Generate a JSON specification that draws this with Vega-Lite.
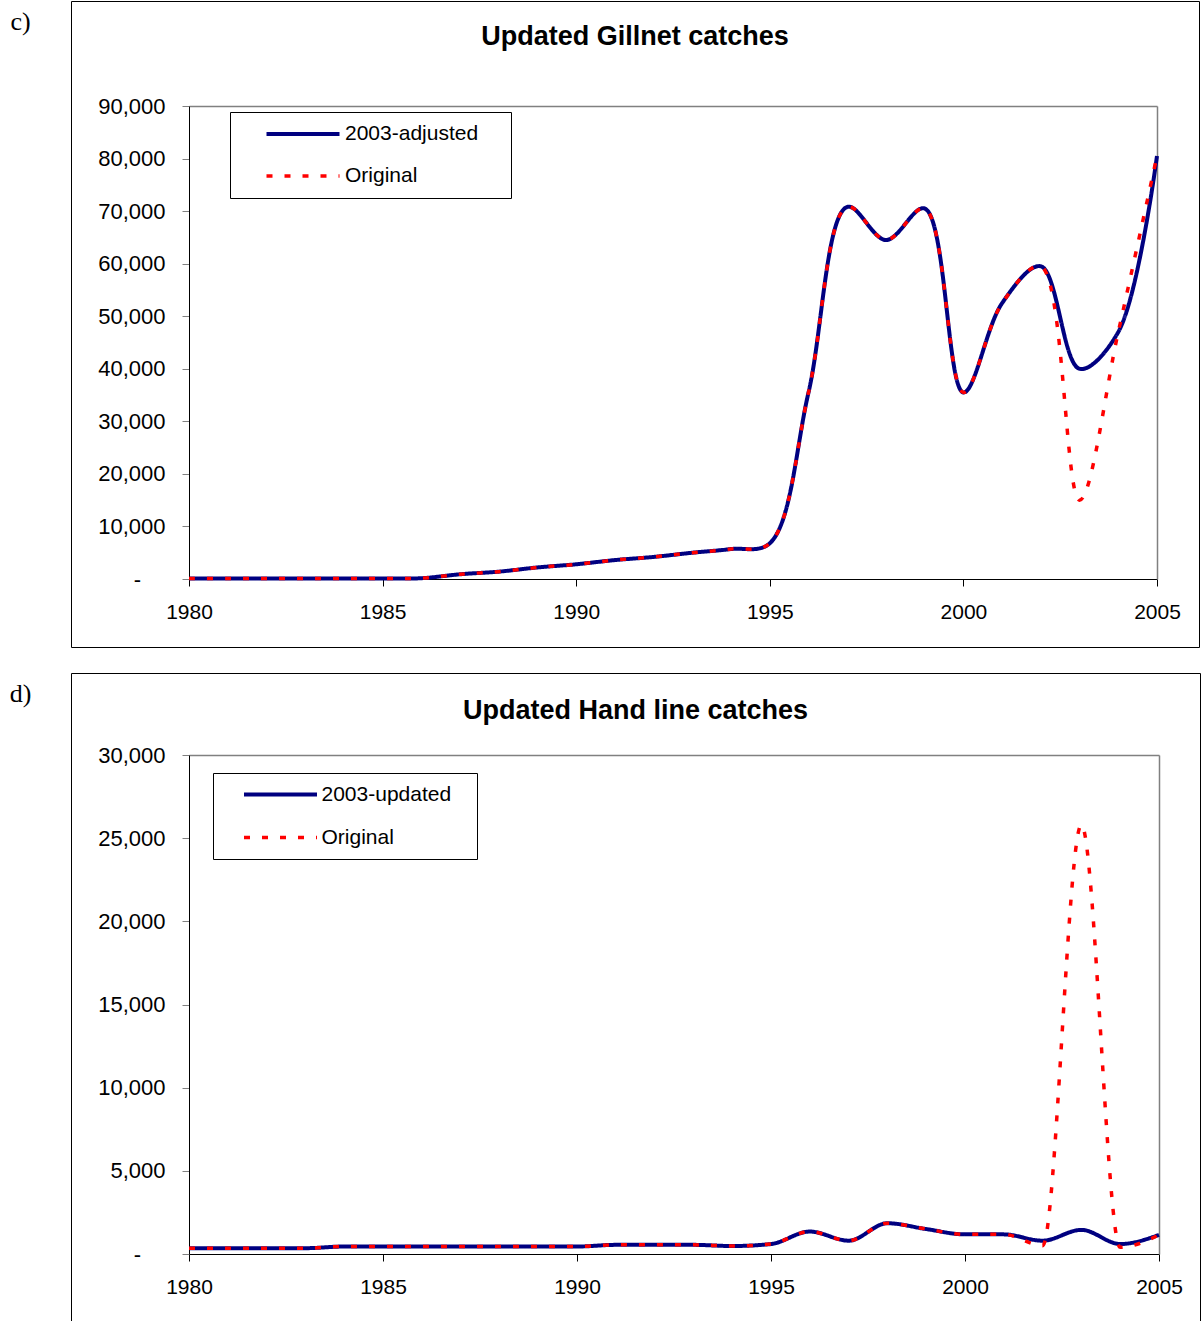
{
  "$schema": "https://vega.github.io/schema/vega-lite/v6.json",
  "autosize": {"type": "pad"},
  "padding": {"left": 8, "top": 0, "right": 0, "bottom": 0},
  "config": {"view": {"stroke": "black", "strokeWidth": 1}, "font": "Liberation Sans"},
  "spacing": 24,
  "datasets": {
    "gillnet": [
      {"year": 1980, "series": "2003-adjusted", "catch": 100}, {"year": 1981, "series": "2003-adjusted", "catch": 100},
      {"year": 1982, "series": "2003-adjusted", "catch": 100}, {"year": 1983, "series": "2003-adjusted", "catch": 100},
      {"year": 1984, "series": "2003-adjusted", "catch": 100}, {"year": 1985, "series": "2003-adjusted", "catch": 100},
      {"year": 1986, "series": "2003-adjusted", "catch": 150}, {"year": 1987, "series": "2003-adjusted", "catch": 900},
      {"year": 1988, "series": "2003-adjusted", "catch": 1400}, {"year": 1989, "series": "2003-adjusted", "catch": 2200},
      {"year": 1990, "series": "2003-adjusted", "catch": 2800}, {"year": 1991, "series": "2003-adjusted", "catch": 3600},
      {"year": 1992, "series": "2003-adjusted", "catch": 4200}, {"year": 1993, "series": "2003-adjusted", "catch": 5000},
      {"year": 1994, "series": "2003-adjusted", "catch": 5700}, {"year": 1995, "series": "2003-adjusted", "catch": 6800},
      {"year": 1996, "series": "2003-adjusted", "catch": 35500}, {"year": 1997, "series": "2003-adjusted", "catch": 70800},
      {"year": 1998, "series": "2003-adjusted", "catch": 64500}, {"year": 1999, "series": "2003-adjusted", "catch": 70500},
      {"year": 2000, "series": "2003-adjusted", "catch": 35500}, {"year": 2001, "series": "2003-adjusted", "catch": 52500},
      {"year": 2002, "series": "2003-adjusted", "catch": 59500}, {"year": 2003, "series": "2003-adjusted", "catch": 40000},
      {"year": 2004, "series": "2003-adjusted", "catch": 47000}, {"year": 2005, "series": "2003-adjusted", "catch": 80500},
      {"year": 1980, "series": "Original", "catch": 100}, {"year": 1981, "series": "Original", "catch": 100},
      {"year": 1982, "series": "Original", "catch": 100}, {"year": 1983, "series": "Original", "catch": 100},
      {"year": 1984, "series": "Original", "catch": 100}, {"year": 1985, "series": "Original", "catch": 100},
      {"year": 1986, "series": "Original", "catch": 150}, {"year": 1987, "series": "Original", "catch": 900},
      {"year": 1988, "series": "Original", "catch": 1400}, {"year": 1989, "series": "Original", "catch": 2200},
      {"year": 1990, "series": "Original", "catch": 2800}, {"year": 1991, "series": "Original", "catch": 3600},
      {"year": 1992, "series": "Original", "catch": 4200}, {"year": 1993, "series": "Original", "catch": 5000},
      {"year": 1994, "series": "Original", "catch": 5700}, {"year": 1995, "series": "Original", "catch": 6800},
      {"year": 1996, "series": "Original", "catch": 35500}, {"year": 1997, "series": "Original", "catch": 70800},
      {"year": 1998, "series": "Original", "catch": 64500}, {"year": 1999, "series": "Original", "catch": 70500},
      {"year": 2000, "series": "Original", "catch": 35500}, {"year": 2001, "series": "Original", "catch": 52500},
      {"year": 2002, "series": "Original", "catch": 59500}, {"year": 2003, "series": "Original", "catch": 15000},
      {"year": 2004, "series": "Original", "catch": 47000}, {"year": 2005, "series": "Original", "catch": 80500}
    ],
    "handline": [
      {"year": 1980, "series": "2003-updated", "catch": 350}, {"year": 1981, "series": "2003-updated", "catch": 350},
      {"year": 1982, "series": "2003-updated", "catch": 350}, {"year": 1983, "series": "2003-updated", "catch": 350},
      {"year": 1984, "series": "2003-updated", "catch": 450}, {"year": 1985, "series": "2003-updated", "catch": 450},
      {"year": 1986, "series": "2003-updated", "catch": 450}, {"year": 1987, "series": "2003-updated", "catch": 450},
      {"year": 1988, "series": "2003-updated", "catch": 450}, {"year": 1989, "series": "2003-updated", "catch": 450},
      {"year": 1990, "series": "2003-updated", "catch": 450}, {"year": 1991, "series": "2003-updated", "catch": 550},
      {"year": 1992, "series": "2003-updated", "catch": 550}, {"year": 1993, "series": "2003-updated", "catch": 550},
      {"year": 1994, "series": "2003-updated", "catch": 480}, {"year": 1995, "series": "2003-updated", "catch": 600},
      {"year": 1996, "series": "2003-updated", "catch": 1350}, {"year": 1997, "series": "2003-updated", "catch": 800},
      {"year": 1998, "series": "2003-updated", "catch": 1850}, {"year": 1999, "series": "2003-updated", "catch": 1500},
      {"year": 2000, "series": "2003-updated", "catch": 1180}, {"year": 2001, "series": "2003-updated", "catch": 1180},
      {"year": 2002, "series": "2003-updated", "catch": 800}, {"year": 2003, "series": "2003-updated", "catch": 1450},
      {"year": 2004, "series": "2003-updated", "catch": 600}, {"year": 2005, "series": "2003-updated", "catch": 1150},
      {"year": 1980, "series": "Original", "catch": 350}, {"year": 1981, "series": "Original", "catch": 350},
      {"year": 1982, "series": "Original", "catch": 350}, {"year": 1983, "series": "Original", "catch": 350},
      {"year": 1984, "series": "Original", "catch": 450}, {"year": 1985, "series": "Original", "catch": 450},
      {"year": 1986, "series": "Original", "catch": 450}, {"year": 1987, "series": "Original", "catch": 450},
      {"year": 1988, "series": "Original", "catch": 450}, {"year": 1989, "series": "Original", "catch": 450},
      {"year": 1990, "series": "Original", "catch": 450}, {"year": 1991, "series": "Original", "catch": 550},
      {"year": 1992, "series": "Original", "catch": 550}, {"year": 1993, "series": "Original", "catch": 550},
      {"year": 1994, "series": "Original", "catch": 480}, {"year": 1995, "series": "Original", "catch": 600},
      {"year": 1996, "series": "Original", "catch": 1350}, {"year": 1997, "series": "Original", "catch": 800},
      {"year": 1998, "series": "Original", "catch": 1850}, {"year": 1999, "series": "Original", "catch": 1500},
      {"year": 2000, "series": "Original", "catch": 1180}, {"year": 2001, "series": "Original", "catch": 1180},
      {"year": 2002, "series": "Original", "catch": 500}, {"year": 2003, "series": "Original", "catch": 25800},
      {"year": 2004, "series": "Original", "catch": 400}, {"year": 2005, "series": "Original", "catch": 1150}
    ]
  },
  "vconcat": [
    {
      "width": 1128,
      "height": 646,
      "data": {"name": "gillnet"},
      "title": {"text": "Updated Gillnet catches", "anchor": "middle", "frame": "group", "offset": -71, "baseline": "alphabetic", "fontSize": 27, "fontWeight": "bold", "font": "Liberation Sans", "color": "black"},
      "layer": [
        {
          "transform": [{"filter": "datum.series === '2003-adjusted'"}],
          "mark": {"type": "line", "interpolate": "catmull-rom", "strokeWidth": 4},
          "encoding": {
            "x": {"field": "year", "type": "quantitative",
              "scale": {"domain": [1980, 2005], "range": [118, 1086], "nice": false, "zero": false},
              "axis": {"orient": "bottom", "offset": -68, "values": [1980, 1985, 1990, 1995, 2000, 2005], "format": "d", "title": null, "grid": false, "domainColor": "black", "tickColor": "black", "tickSize": 7, "labelFontSize": 21, "labelFont": "Liberation Sans", "labelColor": "black", "labelPadding": 15, "labelFlush": false, "labelOverlap": false}},
            "y": {"field": "catch", "type": "quantitative",
              "scale": {"domain": [0, 90000], "range": [578, 105], "nice": false},
              "axis": {"orient": "left", "offset": -118, "values": [0, 10000, 20000, 30000, 40000, 50000, 60000, 70000, 80000, 90000], "labelExpr": "datum.value === 0 ? '-\u2007\u2007\u200b' : format(datum.value, ',')", "title": "c)", "titleAngle": 0, "titleX": -169, "titleY": 20, "titleAlign": "center", "titleBaseline": "middle", "titleFont": "Liberation Serif", "titleFontSize": 26, "titleFontWeight": "normal", "titleColor": "black", "grid": false, "domainColor": "black", "tickColor": "#808080", "tickSize": 7, "labelFontSize": 22, "labelFont": "Liberation Sans", "labelColor": "black", "labelPadding": 17, "labelFlush": false, "labelOverlap": false}},
            "color": {"field": "series", "type": "nominal", "scale": {"domain": ["2003-adjusted", "Original"], "range": ["#000080", "#FF0000"]},
              "legend": {"title": null, "orient": "none", "direction": "vertical", "legendX": 159, "legendY": 111, "padding": 11.5, "strokeColor": "black", "fillColor": "white", "cornerRadius": 0, "symbolType": "M 1.45 0 L 8.75 0", "symbolSize": 400, "labelOffset": 82.5, "rowPadding": 20, "labelFontSize": 21, "labelFont": "Liberation Sans", "labelColor": "black", "labelExpr": "datum.label + '\u2002\u2002\u200b'", "symbolStrokeWidth": 4, "encode": {"symbols": {"update": {"strokeWidth": {"signal": "datum.value === 'Original' ? 3.5 : 4"}}}}}},
            "strokeDash": {"field": "series", "type": "nominal", "scale": {"domain": ["2003-adjusted", "Original"], "range": [[1, 0], [6, 12]]},
              "legend": {"title": null, "orient": "none", "direction": "vertical", "legendX": 159, "legendY": 111, "padding": 11.5, "strokeColor": "black", "fillColor": "white", "cornerRadius": 0, "symbolType": "M 1.45 0 L 8.75 0", "symbolSize": 400, "labelOffset": 82.5, "rowPadding": 20, "labelFontSize": 21, "labelFont": "Liberation Sans", "labelColor": "black", "labelExpr": "datum.label + '\u2002\u2002\u200b'", "symbolStrokeWidth": 4, "encode": {"symbols": {"update": {"strokeWidth": {"signal": "datum.value === 'Original' ? 3.5 : 4"}}}}}}
          }
        },
        {
          "transform": [{"filter": "datum.series === 'Original'"}],
          "mark": {"type": "line", "interpolate": "catmull-rom", "strokeWidth": 3.5},
          "encoding": {
            "x": {"field": "year", "type": "quantitative",
              "scale": {"domain": [1980, 2005], "range": [118, 1086], "nice": false, "zero": false},
              "axis": {"orient": "top", "offset": -105, "labels": false, "ticks": false, "title": null, "grid": false, "domainColor": "#808080", "domainWidth": 1.5}},
            "y": {"field": "catch", "type": "quantitative",
              "scale": {"domain": [0, 90000], "range": [578, 105], "nice": false},
              "axis": {"orient": "right", "offset": -42, "labels": false, "ticks": false, "title": null, "grid": false, "domainColor": "#808080", "domainWidth": 1.5}},
            "color": {"field": "series", "type": "nominal"},
            "strokeDash": {"field": "series", "type": "nominal"}
          }
        }
      ],
      "resolve": {"axis": {"x": "independent", "y": "independent"}}
    },
    {
      "width": 1129,
      "height": 660,
      "data": {"name": "handline"},
      "title": {"text": "Updated Hand line catches", "anchor": "middle", "frame": "group", "offset": -73, "baseline": "alphabetic", "fontSize": 27, "fontWeight": "bold", "font": "Liberation Sans", "color": "black"},
      "layer": [
        {
          "transform": [{"filter": "datum.series === '2003-updated'"}],
          "mark": {"type": "line", "interpolate": "monotone", "strokeWidth": 4},
          "encoding": {
            "x": {"field": "year", "type": "quantitative",
              "scale": {"domain": [1980, 2005], "range": [118, 1088], "nice": false, "zero": false},
              "axis": {"orient": "bottom", "offset": -79, "values": [1980, 1985, 1990, 1995, 2000, 2005], "format": "d", "title": null, "grid": false, "domainColor": "black", "tickColor": "black", "tickSize": 7, "labelFontSize": 21, "labelFont": "Liberation Sans", "labelColor": "black", "labelPadding": 15, "labelFlush": false, "labelOverlap": false}},
            "y": {"field": "catch", "type": "quantitative",
              "scale": {"domain": [0, 30000], "range": [581, 82], "nice": false},
              "axis": {"orient": "left", "offset": -118, "values": [0, 5000, 10000, 15000, 20000, 25000, 30000], "labelExpr": "datum.value === 0 ? '-\u2007\u2007\u200b' : format(datum.value, ',')", "title": "d)", "titleAngle": 0, "titleX": -169, "titleY": 20, "titleAlign": "center", "titleBaseline": "middle", "titleFont": "Liberation Serif", "titleFontSize": 26, "titleFontWeight": "normal", "titleColor": "black", "grid": false, "domainColor": "black", "tickColor": "#808080", "tickSize": 7, "labelFontSize": 22, "labelFont": "Liberation Sans", "labelColor": "black", "labelPadding": 17, "labelFlush": false, "labelOverlap": false}},
            "color": {"field": "series", "type": "nominal", "scale": {"domain": ["2003-updated", "Original"], "range": ["#000080", "#FF0000"]},
              "legend": {"title": null, "orient": "none", "direction": "vertical", "legendX": 142, "legendY": 100, "padding": 11, "strokeColor": "black", "fillColor": "white", "cornerRadius": 0, "symbolType": "M 0.95 0 L 8.25 0", "symbolSize": 400, "labelOffset": 76.5, "rowPadding": 21, "labelFontSize": 21, "labelFont": "Liberation Sans", "labelColor": "black", "labelExpr": "datum.label + '\u2002\u2009\u200b'", "symbolStrokeWidth": 4, "encode": {"symbols": {"update": {"strokeWidth": {"signal": "datum.value === 'Original' ? 3.5 : 4"}}}}}},
            "strokeDash": {"field": "series", "type": "nominal", "scale": {"domain": ["2003-updated", "Original"], "range": [[1, 0], [6, 12]]},
              "legend": {"title": null, "orient": "none", "direction": "vertical", "legendX": 142, "legendY": 100, "padding": 11, "strokeColor": "black", "fillColor": "white", "cornerRadius": 0, "symbolType": "M 0.95 0 L 8.25 0", "symbolSize": 400, "labelOffset": 76.5, "rowPadding": 21, "labelFontSize": 21, "labelFont": "Liberation Sans", "labelColor": "black", "labelExpr": "datum.label + '\u2002\u2009\u200b'", "symbolStrokeWidth": 4, "encode": {"symbols": {"update": {"strokeWidth": {"signal": "datum.value === 'Original' ? 3.5 : 4"}}}}}}
          }
        },
        {
          "transform": [{"filter": "datum.series === 'Original'"}],
          "mark": {"type": "line", "interpolate": "monotone", "strokeWidth": 3.5},
          "encoding": {
            "x": {"field": "year", "type": "quantitative",
              "scale": {"domain": [1980, 2005], "range": [118, 1088], "nice": false, "zero": false},
              "axis": {"orient": "top", "offset": -82, "labels": false, "ticks": false, "title": null, "grid": false, "domainColor": "#808080", "domainWidth": 1.5}},
            "y": {"field": "catch", "type": "quantitative",
              "scale": {"domain": [0, 30000], "range": [581, 82], "nice": false},
              "axis": {"orient": "right", "offset": -41, "labels": false, "ticks": false, "title": null, "grid": false, "domainColor": "#808080", "domainWidth": 1.5}},
            "color": {"field": "series", "type": "nominal"},
            "strokeDash": {"field": "series", "type": "nominal"}
          }
        }
      ],
      "resolve": {"axis": {"x": "independent", "y": "independent"}}
    }
  ],
  "resolve": {
    "scale": {"color": "independent", "strokeDash": "independent"},
    "legend": {"color": "independent", "strokeDash": "independent"}
  }
}
